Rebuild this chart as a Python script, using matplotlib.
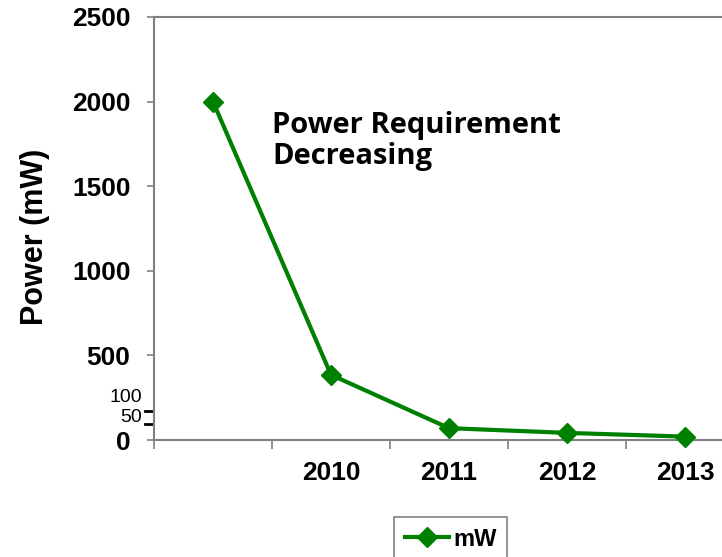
import numpy as np
from matplotlib import pyplot as plt

# Chart data
categories = ['', '2010', '2011', '2012', '2013']
power_mw = [2000, 385, 70, 42, 20]
series_name = 'mW'
y_ticks = [0, 500, 1000, 1500, 2000, 2500]

green = '#008000'
spine_grey = '#808080'

if __name__ == "__main__":

    fig = plt.figure(figsize=(7.22, 5.57), dpi=100)
    ax = fig.add_axes([154 / 722, 1 - 440 / 557, 590 / 722, 423 / 557])

    x = np.arange(len(categories))
    ax.plot(x, power_mw, color=green, linewidth=3, marker='D', markersize=10,
            markeredgewidth=1, markeredgecolor=green, markerfacecolor=green,
            label=series_name, clip_on=False, zorder=3)

    # Axes limits and ticks
    ax.set_xlim(-0.5, len(categories) - 0.5)
    ax.set_ylim(0, 2500)
    ax.set_yticks(y_ticks)
    ax.set_yticklabels([str(v) for v in y_ticks], fontsize=19, fontweight='bold',
                       family='Liberation Sans')
    ax.tick_params(axis='y', direction='out', length=5, width=1.2, color=spine_grey, pad=12)

    # Category tick marks between categories, labels centred on categories
    ax.set_xticks(np.arange(len(categories) + 1) - 0.5)
    ax.set_xticklabels([])
    ax.set_xticks(x, minor=True)
    ax.set_xticklabels(categories, minor=True, fontsize=19, fontweight='bold',
                       family='Liberation Sans')
    ax.tick_params(axis='x', which='major', direction='out', length=6.5, width=1.2, color=spine_grey)
    ax.tick_params(axis='x', which='minor', length=0, pad=15)

    for side in ['left', 'bottom', 'top']:
        ax.spines[side].set_color(spine_grey)
        ax.spines[side].set_linewidth(1.5)
    ax.spines['right'].set_visible(False)

    # Y label
    ax.set_ylabel('Power (mW)', fontsize=22, fontweight='bold', family='Liberation Sans')
    ax.yaxis.set_label_coords(-0.176, 0.48)

    # Small hand placed 100 / 50 markers near the origin
    trans = ax.get_yaxis_transform()
    for lab, y_tick, y_text in [('100', 171, 224), ('50', 95, 106)]:
        ax.text(-0.020, y_text, lab, transform=trans, ha='right', va='baseline', fontsize=14,
                family='Liberation Sans', clip_on=False)
        ax.plot([-0.015, -0.003], [y_tick, y_tick], transform=trans, color='black',
                linewidth=2, clip_on=False)

    # Annotation
    ax.text(0.5, 1945, 'Power Requirement\nDecreasing', fontsize=21, fontweight='bold',
            family='Open Sans', ha='left', va='top', linespacing=1.1)

    # Legend
    leg = fig.legend(loc='upper left', bbox_to_anchor=(394 / 722, 1 - 517 / 557),
                     borderaxespad=0, fancybox=False, edgecolor=spine_grey,
                     prop={'family': 'Liberation Sans', 'weight': 'bold', 'size': 17},
                     handlelength=1.9, handletextpad=0.15, borderpad=0.45, framealpha=1)
    leg.get_frame().set_linewidth(1.2)

    fig.savefig('out.png', dpi=100)
